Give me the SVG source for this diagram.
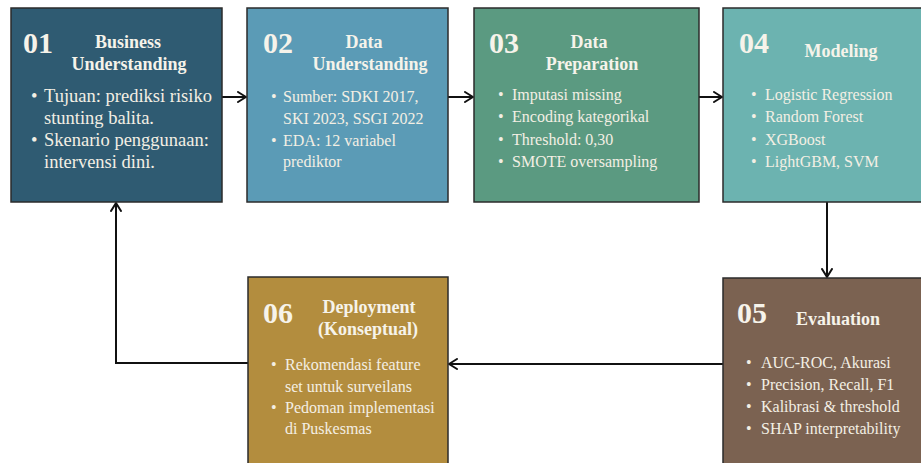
<svg xmlns="http://www.w3.org/2000/svg" width="921" height="463" viewBox="0 0 921 463">
  <defs>
    <marker id="chev" viewBox="0 0 10 12" refX="9" refY="6" markerWidth="10" markerHeight="12" markerUnits="userSpaceOnUse" orient="auto">
      <path d="M1,1 L9,6 L1,11" fill="none" stroke="#111" stroke-width="2" stroke-linecap="round" stroke-linejoin="round"/>
    </marker>
    <style>
      .box { stroke: #2b2b2b; stroke-width: 1.5; }
      .num { font-family: "Liberation Serif", "DejaVu Serif", serif; font-weight: bold; font-size: 30px; fill: #f6f3ea; }
      .ttl { font-family: "Liberation Serif", "DejaVu Serif", serif; font-weight: bold; font-size: 18px; fill: #f6f3ea; text-anchor: middle; }
      .bul { font-family: "Liberation Serif", "DejaVu Serif", serif; font-size: 16px; fill: #f3efe4; }
      .big { font-size: 18.5px; }
      .conn { fill: none; stroke: #111; stroke-width: 2; }
    </style>
  </defs>
  <rect width="921" height="463" fill="#ffffff"/>

  <g id="connectors">
    <line class="conn" x1="222" y1="97" x2="246" y2="97" marker-end="url(#chev)"/>
    <line class="conn" x1="448" y1="97" x2="473" y2="97" marker-end="url(#chev)"/>
    <line class="conn" x1="699" y1="97" x2="722" y2="97" marker-end="url(#chev)"/>
    <line class="conn" x1="827" y1="202" x2="827" y2="277" marker-end="url(#chev)"/>
    <line class="conn" x1="723" y1="364" x2="449" y2="364" marker-end="url(#chev)"/>
    <polyline class="conn" points="248,363 116,363 116,203" marker-end="url(#chev)"/>
  </g>

  <g id="node-01">
    <rect class="box" x="11" y="8" width="211" height="194" fill="#2f5b72"/>
    <text class="num" x="23" y="53">01</text>
    <text class="ttl" x="128" y="48">Business</text>
    <text class="ttl" x="129" y="70">Understanding</text>
    <g class="bul big">
      <text x="31" y="102">•</text><text x="44" y="102">Tujuan: prediksi risiko</text>
      <text x="44" y="124">stunting balita.</text>
      <text x="31" y="146">•</text><text x="44" y="146">Skenario penggunaan:</text>
      <text x="44" y="168">intervensi dini.</text>
    </g>
  </g>

  <g id="node-02">
    <rect class="box" x="247" y="8" width="201" height="194" fill="#5b9bb6"/>
    <text class="num" x="263" y="53">02</text>
    <text class="ttl" x="364" y="48">Data</text>
    <text class="ttl" x="370" y="70">Understanding</text>
    <g class="bul">
      <text x="271" y="102">•</text><text x="283" y="102">Sumber: SDKI 2017,</text>
      <text x="283" y="124">SKI 2023, SSGI 2022</text>
      <text x="271" y="146">•</text><text x="283" y="146">EDA: 12 variabel</text>
      <text x="283" y="167">prediktor</text>
    </g>
  </g>

  <g id="node-03">
    <rect class="box" x="474" y="8" width="225" height="194" fill="#5b9a81"/>
    <text class="num" x="489" y="53">03</text>
    <text class="ttl" x="589" y="48">Data</text>
    <text class="ttl" x="592" y="70">Preparation</text>
    <g class="bul">
      <text x="498" y="100">•</text><text x="512" y="100">Imputasi missing</text>
      <text x="498" y="122">•</text><text x="512" y="122">Encoding kategorikal</text>
      <text x="498" y="145">•</text><text x="512" y="145">Threshold: 0,30</text>
      <text x="498" y="167">•</text><text x="512" y="167">SMOTE oversampling</text>
    </g>
  </g>

  <g id="node-04">
    <rect class="box" x="723" y="8" width="200" height="194" fill="#6cb3b0"/>
    <text class="num" x="739" y="53">04</text>
    <text class="ttl" x="841" y="57">Modeling</text>
    <g class="bul">
      <text x="751" y="100">•</text><text x="765" y="100">Logistic Regression</text>
      <text x="751" y="122">•</text><text x="765" y="122">Random Forest</text>
      <text x="751" y="145">•</text><text x="765" y="145">XGBoost</text>
      <text x="751" y="167">•</text><text x="765" y="167">LightGBM, SVM</text>
    </g>
  </g>

  <g id="node-05">
    <rect class="box" x="723" y="278" width="200" height="190" fill="#7b6251"/>
    <text class="num" x="737" y="323">05</text>
    <text class="ttl" x="838" y="325">Evaluation</text>
    <g class="bul">
      <text x="746" y="368">•</text><text x="761" y="368">AUC-ROC, Akurasi</text>
      <text x="746" y="390">•</text><text x="761" y="390">Precision, Recall, F1</text>
      <text x="746" y="412">•</text><text x="761" y="412">Kalibrasi &amp; threshold</text>
      <text x="746" y="434">•</text><text x="761" y="434">SHAP interpretability</text>
    </g>
  </g>

  <g id="node-06">
    <rect class="box" x="248" y="277" width="200" height="191" fill="#b38d3e"/>
    <text class="num" x="263" y="323">06</text>
    <text class="ttl" x="369" y="313">Deployment</text>
    <text class="ttl" x="368" y="335">(Konseptual)</text>
    <g class="bul">
      <text x="271" y="370">•</text><text x="285" y="370">Rekomendasi feature</text>
      <text x="285" y="392">set untuk surveilans</text>
      <text x="271" y="413">•</text><text x="285" y="413">Pedoman implementasi</text>
      <text x="285" y="434">di Puskesmas</text>
    </g>
  </g>
</svg>
